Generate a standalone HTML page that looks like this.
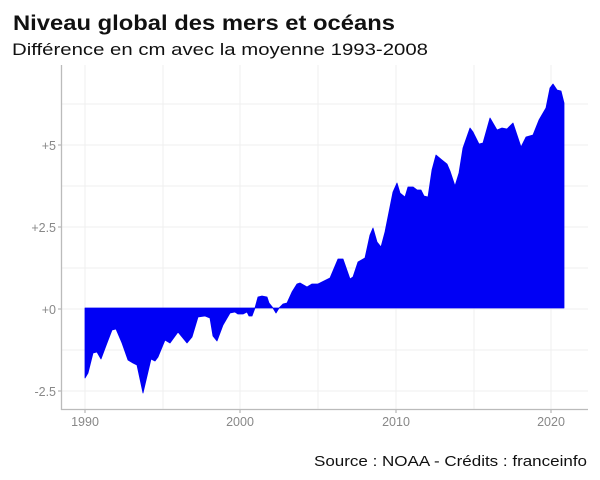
<!DOCTYPE html>
<html><head><meta charset="utf-8"><style>
body{margin:0;background:#fff}
svg{display:block;font-family:"Liberation Sans",sans-serif}
</style></head><body>
<svg width="600" height="480" viewBox="0 0 600 480">
<rect width="600" height="480" fill="#fff"/>
<text x="13" y="30" font-size="21" font-weight="bold" fill="#111" textLength="382" lengthAdjust="spacingAndGlyphs">Niveau global des mers et océans</text>
<text x="12" y="55" font-size="17" fill="#111" textLength="416" lengthAdjust="spacingAndGlyphs">Différence en cm avec la moyenne 1993-2008</text>
<g stroke="#efefef" stroke-width="1">
<line x1="62" x2="588" y1="104" y2="104"/><line x1="62" x2="588" y1="145" y2="145"/>
<line x1="62" x2="588" y1="186" y2="186"/><line x1="62" x2="588" y1="227" y2="227"/>
<line x1="62" x2="588" y1="268" y2="268"/><line x1="62" x2="588" y1="309" y2="309"/>
<line x1="62" x2="588" y1="350" y2="350"/><line x1="62" x2="588" y1="391" y2="391"/>
<line y1="65" y2="410" x1="85" x2="85"/><line y1="65" y2="410" x1="163" x2="163"/>
<line y1="65" y2="410" x1="240" x2="240"/><line y1="65" y2="410" x1="318" x2="318"/>
<line y1="65" y2="410" x1="396" x2="396"/><line y1="65" y2="410" x1="474" x2="474"/>
<line y1="65" y2="410" x1="551" x2="551"/>
</g>
<polygon fill="#0000f5" stroke="#0000f5" stroke-width="0.8" stroke-linejoin="round" points="85,308 85,378 88,373 93,353 97,352 101,359 107,343 112,330 116,329 122,343 128,360 133,363 137,365 143,393 151,359 155,361 158,357 165,340 170,343 178,332 187,343 192,337 198,317 205,316 210,318 213,336 217,341 223,325 230,313 235,312 238,314 243,314 247,312 249,316 252,316 255,308 258,297 262,296 267,297 269,303 273,308 276,313 279,308 283,304 287,303 292,292 297,284 300,283 307,287 312,284 318,284 322,282 330,278 338,259 343,259 350,279 353,277 358,262 365,258 370,235 373,228 377,242 381,247 385,232 393,192 397,183 400,193 405,197 408,187 413,187 417,190 421,190 424,196 428,197 432,170 436,155 442,160 447,164 450,171 455,186 459,173 463,148 470,128 473,132 479,144 483,143 490,118 497,130 502,128 507,129 513,123 521,147 526,137 533,135 539,120 546,108 550,88 553,84 557,90 561,91 564,103 564,308"/>
<g stroke="#bbb" stroke-width="1.3">
<line x1="61.5" x2="61.5" y1="65" y2="410"/><line x1="61" x2="588" y1="409.5" y2="409.5"/>
<line x1="58" x2="61" y1="145" y2="145"/><line x1="58" x2="61" y1="227" y2="227"/>
<line x1="58" x2="61" y1="309" y2="309"/><line x1="58" x2="61" y1="391" y2="391"/>
<line y1="410" y2="413" x1="85" x2="85"/><line y1="410" y2="413" x1="240" x2="240"/>
<line y1="410" y2="413" x1="396" x2="396"/><line y1="410" y2="413" x1="551" x2="551"/>
</g>
<g fill="#888" font-size="12.5" text-anchor="end">
<text x="56" y="150">+5</text><text x="56" y="232">+2.5</text>
<text x="56" y="314">+0</text><text x="56" y="396">-2.5</text>
</g>
<g fill="#888" font-size="12.5" text-anchor="middle">
<text x="85" y="426">1990</text><text x="240" y="426">2000</text>
<text x="396" y="426">2010</text><text x="551" y="426">2020</text>
</g>
<text x="587" y="466" font-size="15" fill="#111" text-anchor="end" textLength="273" lengthAdjust="spacingAndGlyphs">Source : NOAA - Crédits : franceinfo</text>
</svg>
</body></html>
